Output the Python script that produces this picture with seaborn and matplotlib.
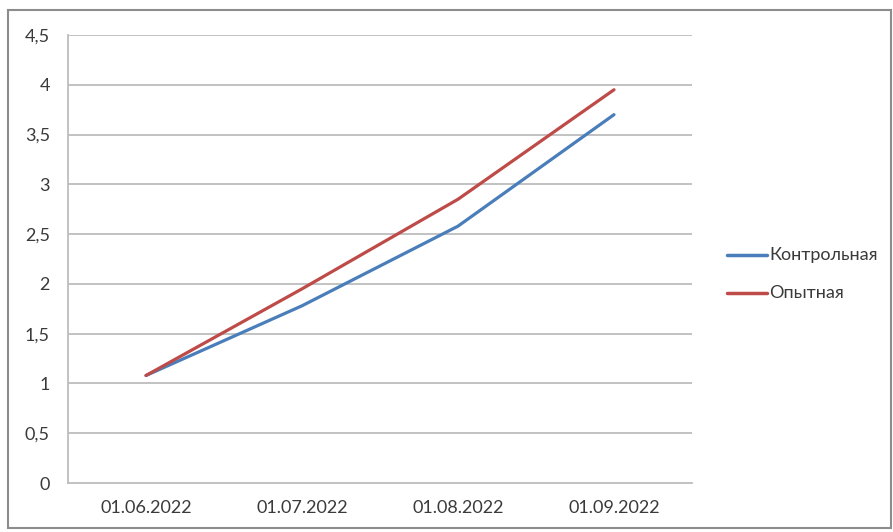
import matplotlib
matplotlib.use("Agg")
import matplotlib.pyplot as plt
from matplotlib.patches import Rectangle
from matplotlib.ticker import MultipleLocator, FuncFormatter
import seaborn as sns
import pandas as pd

# Measured values per date
dates = ["01.06.2022", "01.07.2022", "01.08.2022", "01.09.2022"]
control = [1.08, 1.78, 2.58, 3.70]
experimental = [1.08, 1.95, 2.85, 3.95]
series_names = ["Контрольная", "Опытная"]

df = pd.DataFrame({
    "date": dates * 2,
    "x": list(range(len(dates))) * 2,
    "value": control + experimental,
    "group": [series_names[0]] * len(dates) + [series_names[1]] * len(dates),
})

sns.set_theme(style="white")
plt.rcParams["font.family"] = ["Lato", "DejaVu Sans"]

W, H = 893, 532
fig = plt.figure(figsize=(W / 100, H / 100), dpi=100)
ax = fig.add_axes([68 / W, 1 - 483 / H, (692 - 68) / W, (483 - 35) / H])

grid_c = "#bdbdbd"
txt_c = "#3a3a3a"
fs = 13

for v in [i * 0.5 for i in range(1, 10)]:
    ax.axhline(v, color=grid_c, lw=1.3, zorder=0)

sns.lineplot(data=df, x="x", y="value", hue="group",
             palette=["#4a7ebb", "#be4b48"], linewidth=2.3, ax=ax,
             legend=False, zorder=3)

ax.set_xlim(-0.5, len(dates) - 0.5)
ax.set_ylim(0, 4.5)
ax.yaxis.set_major_locator(MultipleLocator(0.5))
ax.yaxis.set_major_formatter(FuncFormatter(
    lambda v, _: (f"{v:g}").replace(".", ",")))
ax.set_xticks(range(len(dates)))
ax.set_xticklabels(dates)
ax.set_xticks([i - 0.5 for i in range(len(dates) + 1)], minor=True)
ax.set_xlabel("")
ax.set_ylabel("")

for s in ["top", "right"]:
    ax.spines[s].set_visible(False)
for s in ["left", "bottom"]:
    ax.spines[s].set_color(grid_c)
    ax.spines[s].set_linewidth(1.3)

ax.tick_params(axis="x", which="major", length=0, pad=12,
               labelsize=fs, labelcolor=txt_c)
ax.tick_params(axis="x", which="minor", length=5, width=1.2,
               color=grid_c, direction="out")
ax.tick_params(axis="y", which="major", length=5, width=1.2,
               color=grid_c, direction="out", pad=8,
               labelsize=fs, labelcolor=txt_c)

# Legend on the right
ax_leg_y = [255, 293]
for name, col, yp in zip(series_names, ["#4a7ebb", "#be4b48"], ax_leg_y):
    fig.add_artist(plt.Line2D([727 / W, 767 / W], [1 - yp / H] * 2,
                              color=col, lw=2.5, transform=fig.transFigure))
    fig.text(769 / W, 1 - yp / H, name, fontsize=fs, color=txt_c,
             va="center", ha="left")

# Chart-area border
fig.add_artist(Rectangle((8 / W, 1 - 528 / H), (891 - 8) / W, (528 - 10) / H,
                         transform=fig.transFigure, fill=False,
                         edgecolor="#8c8c8c", lw=1.5))

fig.savefig("out.png", dpi=100)
